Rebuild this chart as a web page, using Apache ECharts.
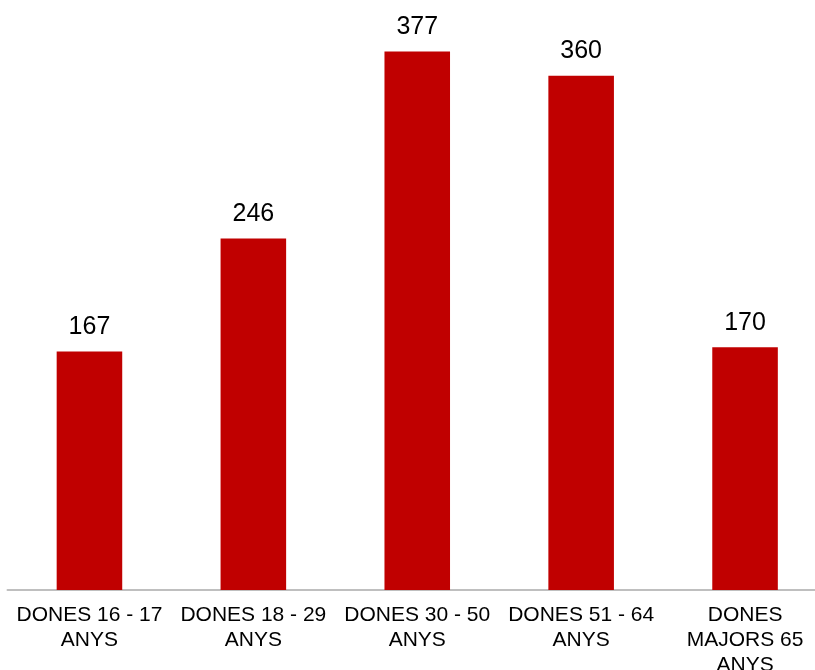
<!DOCTYPE html>
<html>
<head>
<meta charset="utf-8">
<script src="https://cdn.jsdelivr.net/npm/echarts@6/dist/echarts.min.js"></script>
<style>
html, body { margin: 0; padding: 0; background: #fff; }
#chart { width: 815px; height: 670px; }
</style>
</head>
<body>
<div id="chart"></div>
<script>
// categories (tick labels as drawn, wrapped)
var categories = [
    'DONES 16 - 17\nANYS',
    'DONES 18 - 29\nANYS',
    'DONES 30 - 50\nANYS',
    'DONES 51 - 64\nANYS',
    'DONES\nMAJORS 65\nANYS'
];
var values = [167, 246, 377, 360, 170];

var myChart = echarts.init(document.getElementById('chart'));
var font = '"Liberation Sans", Arial, sans-serif';

var option = {
    animation: false,
    grid: {
        left: 7.5,
        width: 819.5,
        top: 18.6,
        height: 571.4,
        containLabel: false,
        outerBoundsMode: 'none'
    },
    xAxis: {
        type: 'category',
        data: categories,
        axisLine: { show: true, lineStyle: { color: '#bfbfbf', width: 2 } },
        axisTick: { show: false },
        axisLabel: {
            interval: 0,
            margin: 13,
            color: '#000',
            fontFamily: font,
            fontSize: 21,
            lineHeight: 25
        }
    },
    yAxis: {
        type: 'value',
        min: 0,
        max: 400,
        show: false,
        splitLine: { show: false }
    },
    series: [{
        type: 'bar',
        data: values,
        barWidth: '40%',
        itemStyle: { color: '#c00000' },
        label: {
            show: true,
            position: 'top',
            distance: 12,
            color: '#000',
            fontFamily: font,
            fontSize: 25
        }
    }]
};
myChart.setOption(option);
</script>
</body>
</html>
